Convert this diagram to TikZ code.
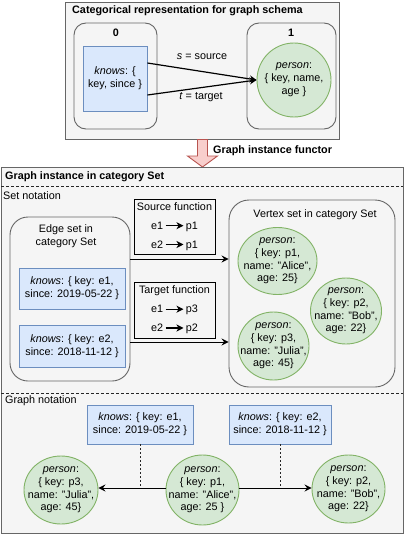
\documentclass[tikz,border=0pt]{standalone}
\usepackage{fontspec}
\setmainfont{Liberation Sans}
\usetikzlibrary{arrows.meta,calc,shapes.geometric}
\definecolor{grayfill}{HTML}{F5F5F5}
\definecolor{graystroke}{HTML}{666666}
\definecolor{bluefill}{HTML}{DAE8FC}
\definecolor{bluestroke}{HTML}{6C8EBF}
\definecolor{greenfill}{HTML}{D5E8D4}
\definecolor{greenstroke}{HTML}{82B366}
\definecolor{pinkfill}{HTML}{F8CECC}
\definecolor{pinkstroke}{HTML}{B85450}
\newcommand{\maparr}{\tikz[baseline=-3.6pt]\draw[line width=1.2pt,-{Stealth[length=7pt,width=7pt,inset=2pt]}] (0pt,0pt) -- (18pt,0pt);}
\begin{document}
\begin{tikzpicture}[x=1pt,y=-1pt,
  font=\fontsize{10.8}{12.8}\selectfont,
  bold/.style={font=\fontsize{10.8}{12.8}\selectfont\bfseries},
  box/.style={draw=graystroke, fill=grayfill, line width=0.9pt, inner sep=0pt},
  rbox/.style={box, rounded corners=#1},
  bluebox/.style={draw=bluestroke, fill=bluefill, line width=0.9pt, align=center, inner sep=0pt},
  gcirc/.style={ellipse, draw=greenstroke, fill=greenfill, line width=0.9pt, align=center, inner sep=-15pt},
  fbox/.style={draw=black, line width=0.9pt, align=center, inner sep=0pt},
  lbl/.style={inner sep=0pt, align=center},
  conn/.style={draw=black, line width=1pt, -{Stealth[length=7pt,width=7pt,inset=2.5pt]}},
  divider/.style={draw=black!85, line width=0.9pt, dash pattern=on 3pt off 2pt},
  dotline/.style={draw=black!85, line width=0.9pt, dash pattern=on 2pt off 2pt}]
\useasboundingbox (0,0) rectangle (407,535);

% ---------- schema ----------
\node[box, minimum width=274pt, minimum height=137pt] (schema) at (202,70.5) {};
\node[lbl, bold, anchor=west] (schematitle) at (72,11) {Categorical representation for graph schema};
\node[rbox=12pt, minimum width=83pt, minimum height=106pt] (obj0) at (115.5,76) {};
\node[lbl, bold] (l0) at (116,33) {0};
\node[bluebox, minimum width=64pt, minimum height=65pt] (kn) at (115,78.5) {\textit{knows}: \{\\key, since \}};
\node[rbox=12pt, minimum width=89pt, minimum height=106pt] (obj1) at (291.5,76) {};
\node[lbl, bold] (l1) at (291,33) {1};
\node[gcirc, minimum width=74pt, minimum height=74pt] (pers) at (294,80) {\textit{person}:\\\{ key, name,\\age \}};
\coordinate (s0) at ([yshift=15.5pt]kn.east);
\coordinate (t0) at ([yshift=-16.5pt]kn.east);
\draw[conn, line width=1.2pt] (s0) -- (pers.west);
\draw[conn, line width=1.2pt] (t0) -- (pers.west);
\node[lbl] (slbl) at (202,57) {\textit{s} = source};
\node[lbl] (tlbl) at (201,97) {\textit{t} = target};

% ---------- functor arrow ----------
\draw[fill=pinkfill, draw=pinkstroke, line width=0.9pt] (197.5,139.5) -- (207.5,139.5) -- (207.5,156) -- (217.5,156) -- (202.5,167) -- (187.5,156) -- (197.5,156) -- cycle;
\node[lbl, bold, anchor=west] (functor) at (213,151) {Graph instance functor};

% ---------- instance ----------
\node[box, minimum width=402pt, minimum height=366pt] (inst) at (202,350) {};
\node[lbl, bold, anchor=west] (insttitle) at (5,177) {Graph instance in category Set};
\draw[divider] (1,186) -- (403,186);
\node[lbl, anchor=west] (setnot) at (3,195.5) {Set notation};
\draw[divider] (1,393) -- (403,393);
\node[lbl, anchor=west] (graphnot) at (5,401) {Graph notation};

% edge set
\node[rbox=18pt, minimum width=120pt, minimum height=164pt] (eset) at (70,299) {};
\node[lbl] (esettitle) at (66,236.5) {Edge set in\\category Set};
\node[bluebox, minimum width=106pt, minimum height=41pt] (e1) at (72,288.5) {\textit{knows}: \{ key: e1,\\since: 2019-05-22 \}};
\node[bluebox, minimum width=106pt, minimum height=42pt] (e2) at (72,346) {\textit{knows}: \{ key: e2,\\since: 2018-11-12 \}};

% functions
\node[fbox, minimum width=81pt, minimum height=55pt] (src) at (174.5,226.5) {Source function\\[6pt]e1\,\maparr\,p1\\[6pt]e2\,\maparr\,p1};
\node[fbox, minimum width=81pt, minimum height=56pt] (tgt) at (174.5,310) {Target function\\[6pt]e1\,\maparr\,p3\\[6pt]e2\,\maparr\,p2};

% vertex set
\node[rbox=20pt, minimum width=166pt, minimum height=187pt] (vset) at (312,293.5) {};
\node[lbl] (vsettitle) at (315,215) {Vertex set in category Set};
\node[gcirc, minimum width=79pt, minimum height=67pt] (p1) at (277.5,261) {\textit{person}:\\\{ key: p1,\\name: "Alice",\\age: 25\}};
\node[gcirc, minimum width=71pt, minimum height=66pt] (p2) at (346,311) {\textit{person}:\\\{ key: p2,\\name: "Bob",\\age: 22\}};
\node[gcirc, minimum width=71pt, minimum height=68pt] (p3) at (273.5,346) {\textit{person}:\\\{ key: p3,\\name: "Julia",\\age: 45\}};

\coordinate (a1) at ([yshift=40pt]eset.east);
\draw[conn] (a1) -- (a1 -| vset.west);
\coordinate (a2) at ([yshift=-43pt]eset.east);
\draw[conn] (a2) -- (a2 -| vset.west);

% graph notation
\node[bluebox, minimum width=106pt, minimum height=39pt] (ge1) at (140,424.5) {\textit{knows}: \{ key: e1,\\since: 2019-05-22 \}};
\node[bluebox, minimum width=102pt, minimum height=39pt] (ge2) at (280,424.5) {\textit{knows}: \{ key: e2,\\since: 2018-11-12 \}};
\node[gcirc, minimum width=74pt, minimum height=68pt] (gp3) at (61,490) {\textit{person}:\\\{ key: p3,\\name: "Julia",\\age: 45\}};
\node[gcirc, minimum width=73pt, minimum height=70pt] (gp1) at (202.5,490) {\textit{person}:\\\{ key: p1,\\name: "Alice",\\age: 25 \}};
\node[gcirc, minimum width=73pt, minimum height=68pt] (gp2) at (348.5,489) {\textit{person}:\\\{ key: p2,\\name: "Bob",\\age: 22\}};
\coordinate (g1) at ([yshift=2pt]gp1.west);
\coordinate (g2) at ([yshift=2pt]gp1.east);
\draw[conn] (g1) -- (g1 -| gp3.east);
\draw[conn] (g2) -- (g2 -| gp2.west);
\draw[dotline] (ge1.south) -- (ge1.south |- g1);
\draw[dotline] (ge2.south) -- (ge2.south |- g2);
\end{tikzpicture}
\end{document}
